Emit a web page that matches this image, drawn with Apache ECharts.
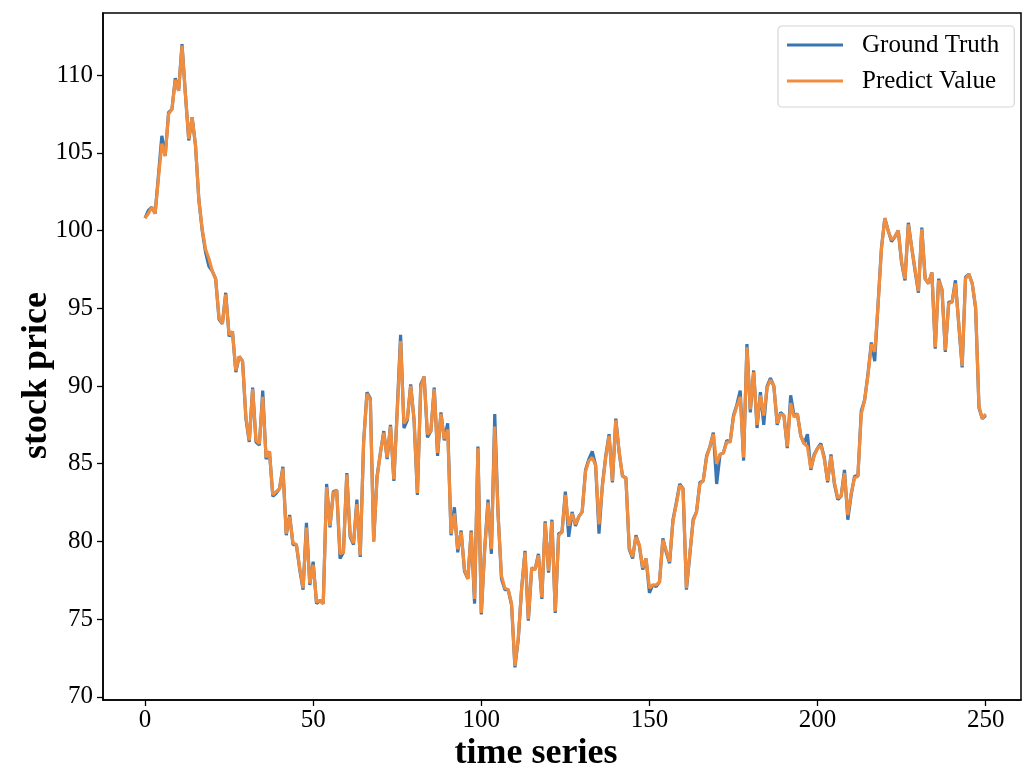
<!DOCTYPE html>
<html>
<head>
<meta charset="utf-8">
<script src="https://cdn.jsdelivr.net/npm/echarts@6/dist/echarts.min.js"></script>
<style>
html,body{margin:0;padding:0;background:#fff;overflow:hidden;}
#chart{width:1029px;height:769px;}
</style>
</head>
<body>
<div id="chart"></div>
<script>
// Ground truth stock price, t = 0..250
var groundTruth = [
100.8,101.3,101.5,101.1,103.6,106.1,104.8,107.6,107.8,109.8,
109.0,112.0,108.8,105.8,107.3,105.5,102.0,100.0,98.6,97.7,
97.4,96.9,94.3,94.0,96.0,93.2,93.5,90.9,91.9,91.6,
87.9,86.4,89.9,86.4,86.2,89.7,85.3,85.8,82.9,83.1,
83.4,84.8,80.4,81.7,79.8,79.8,78.2,76.9,81.2,77.2,
78.7,76.0,76.2,76.0,83.7,80.9,83.2,83.3,78.9,79.3,
84.4,80.3,79.8,82.7,79.0,86.4,89.6,89.2,80.0,84.2,
85.7,87.1,85.3,87.5,83.9,88.5,93.3,87.3,87.8,90.1,
87.8,83.0,90.1,90.6,86.7,87.1,89.9,85.5,88.3,86.5,
87.6,80.4,82.2,79.3,80.7,78.1,77.6,80.7,76.0,86.1,
75.3,79.5,82.7,79.2,88.2,81.7,77.6,76.9,76.9,75.9,
71.9,73.7,77.0,79.4,74.9,78.3,78.2,79.2,76.3,81.3,
78.0,81.4,75.4,80.5,80.6,83.2,80.3,81.9,81.0,81.6,
81.9,84.6,85.3,85.8,84.9,80.5,83.6,85.5,86.9,83.8,
87.9,85.7,84.2,84.1,79.5,78.9,80.4,79.7,78.2,78.9,
76.7,77.2,77.1,77.4,80.2,79.3,78.6,81.4,82.5,83.7,
83.4,76.9,79.1,81.4,81.9,83.8,83.9,85.5,86.1,87.0,
83.7,85.6,85.7,86.5,86.4,88.1,88.8,89.7,85.2,92.7,
88.3,91.0,87.3,89.6,87.5,90.0,90.5,90.0,87.5,88.3,
88.1,86.0,89.4,88.1,88.2,86.8,86.3,86.9,84.6,85.6,
86.0,86.3,85.4,83.8,85.6,83.7,82.7,82.9,84.6,81.4,
83.0,84.2,84.2,88.4,89.1,90.8,92.8,91.6,95.3,98.9,
100.8,100.0,99.3,99.6,100.0,97.9,96.8,100.5,98.9,97.4,
96.0,100.2,96.9,96.6,97.3,92.4,96.9,96.2,92.2,95.4,
95.4,96.8,93.9,91.2,97.0,97.2,96.6,95.0,88.6,87.9,
88.1
];
// Model prediction, t = 0..250
var predictValue = [
100.8,101.1,101.5,101.1,103.4,105.6,104.8,107.5,107.8,109.7,
109.0,111.9,108.8,105.9,107.3,105.5,102.0,100.1,98.8,98.2,
97.4,96.9,94.4,94.0,95.9,93.3,93.5,91.0,91.9,91.6,
88.0,86.5,89.8,86.5,86.3,89.3,85.4,85.8,83.0,83.2,
83.4,84.7,80.5,81.6,79.9,79.8,78.3,77.0,80.9,77.3,
78.5,76.1,76.2,76.0,83.5,81.0,83.1,83.3,79.2,79.3,
84.3,80.4,79.9,82.4,79.1,86.3,89.5,89.1,80.0,84.1,
85.7,87.0,85.4,87.4,84.0,88.3,92.9,87.6,87.9,90.0,
87.9,83.1,89.9,90.6,86.9,87.1,89.8,85.7,88.2,86.6,
87.2,80.5,81.8,79.5,80.6,78.2,77.6,80.6,76.3,86.0,
75.4,79.4,82.5,79.5,87.4,81.7,77.8,77.0,76.9,76.0,
72.0,73.8,77.0,79.3,75.0,78.3,78.2,79.1,76.4,81.2,
78.1,81.3,75.5,80.4,80.6,83.0,81.0,81.8,81.1,81.6,
81.9,84.5,85.2,85.4,84.9,81.1,83.5,85.4,86.8,83.9,
87.8,85.8,84.2,84.1,79.6,79.0,80.3,79.8,78.3,78.9,
77.0,77.2,77.2,77.4,80.1,79.4,78.7,81.3,82.4,83.6,
83.4,77.0,79.2,81.3,81.9,83.7,83.9,85.4,86.1,86.9,
85.0,85.6,85.7,86.4,86.4,88.0,88.7,89.3,85.4,92.5,
88.5,90.9,87.5,89.4,88.1,89.9,90.4,90.0,87.6,88.2,
88.1,86.1,88.9,88.0,88.2,86.8,86.3,86.1,84.7,85.5,
86.0,86.2,85.3,83.9,85.5,83.8,82.8,82.9,84.4,81.7,
83.1,84.1,84.2,88.2,89.1,90.7,92.7,92.2,95.2,98.8,
100.8,100.0,99.4,99.6,100.0,98.0,96.9,100.4,98.9,97.5,
96.1,100.1,96.9,96.6,97.3,92.5,96.8,96.2,92.3,95.3,
95.4,96.6,94.0,91.3,96.9,97.2,96.6,95.1,88.7,87.9,
88.2
];
var xTicks = [0, 50, 100, 150, 200, 250];
var yTicks = [70, 75, 80, 85, 90, 95, 100, 105, 110];
var seriesNames = ['Ground Truth', 'Predict Value'];

function toPairs(arr) {
  return arr.map(function (v, i) { return [i, v]; });
}

var serif = 'Liberation Serif';
var chart = echarts.init(document.getElementById('chart'), null, {renderer: 'canvas', width: 1029, height: 769});
chart.setOption({
  animation: false,
  backgroundColor: '#ffffff',
  grid: {
    left: 103, top: 13, width: 918, height: 687,
    containLabel: false,
    outerBoundsMode: 'none',
    show: true, borderColor: '#000', borderWidth: 1.5, backgroundColor: 'transparent'
  },
  legend: {
    orient: 'vertical',
    left: 778, top: 26,
    data: seriesNames,
    icon: 'rect',
    itemWidth: 56, itemHeight: 3,
    itemGap: 8,
    padding: [5, 15, 12, 9],
    backgroundColor: '#fff',
    borderColor: '#d6d6d6',
    borderWidth: 1.2,
    borderRadius: 4,
    textStyle: {fontFamily: serif, fontSize: 25, color: '#000', lineHeight: 28, padding: [0, 0, 0, 14]}
  },
  xAxis: {
    type: 'value',
    min: -12.5, max: 260.5,
    name: 'time series',
    nameLocation: 'middle',
    nameGap: 36,
    nameMoveOverlap: false,
    nameTextStyle: {fontFamily: serif, fontSize: 36, fontWeight: 'bold', color: '#000', padding: [0, 52, 0, 0]},
    axisLine: {show: true, onZero: false, lineStyle: {color: '#000', width: 1.5}},
    splitLine: {show: false},
    axisTick: {show: true, length: 6, lineStyle: {color: '#000', width: 1.3}, customValues: xTicks},
    axisLabel: {fontFamily: serif, fontSize: 25, color: '#000', margin: 8, customValues: xTicks}
  },
  yAxis: {
    type: 'value',
    min: 69.8, max: 114.0,
    name: 'stock price',
    nameLocation: 'middle',
    nameGap: 48,
    nameMoveOverlap: false,
    nameTextStyle: {fontFamily: serif, fontSize: 36, fontWeight: 'bold', color: '#000', padding: [0, 38, 0, 0]},
    axisLine: {show: true, onZero: false, lineStyle: {color: '#000', width: 1.5}},
    splitLine: {show: false},
    axisTick: {show: true, length: 6, lineStyle: {color: '#000', width: 1.3}, customValues: yTicks},
    axisLabel: {fontFamily: serif, fontSize: 25, color: '#000', margin: 10, customValues: yTicks}
  },
  series: [
    {
      name: seriesNames[0], type: 'line', data: toPairs(groundTruth),
      showSymbol: false, symbol: 'none',
      lineStyle: {color: '#3a76b1', width: 3.2}, itemStyle: {color: '#3a76b1'}
    },
    {
      name: seriesNames[1], type: 'line', data: toPairs(predictValue),
      showSymbol: false, symbol: 'none',
      lineStyle: {color: '#f08d3e', width: 3.2}, itemStyle: {color: '#f08d3e'}
    }
  ]
});
</script>
</body>
</html>
